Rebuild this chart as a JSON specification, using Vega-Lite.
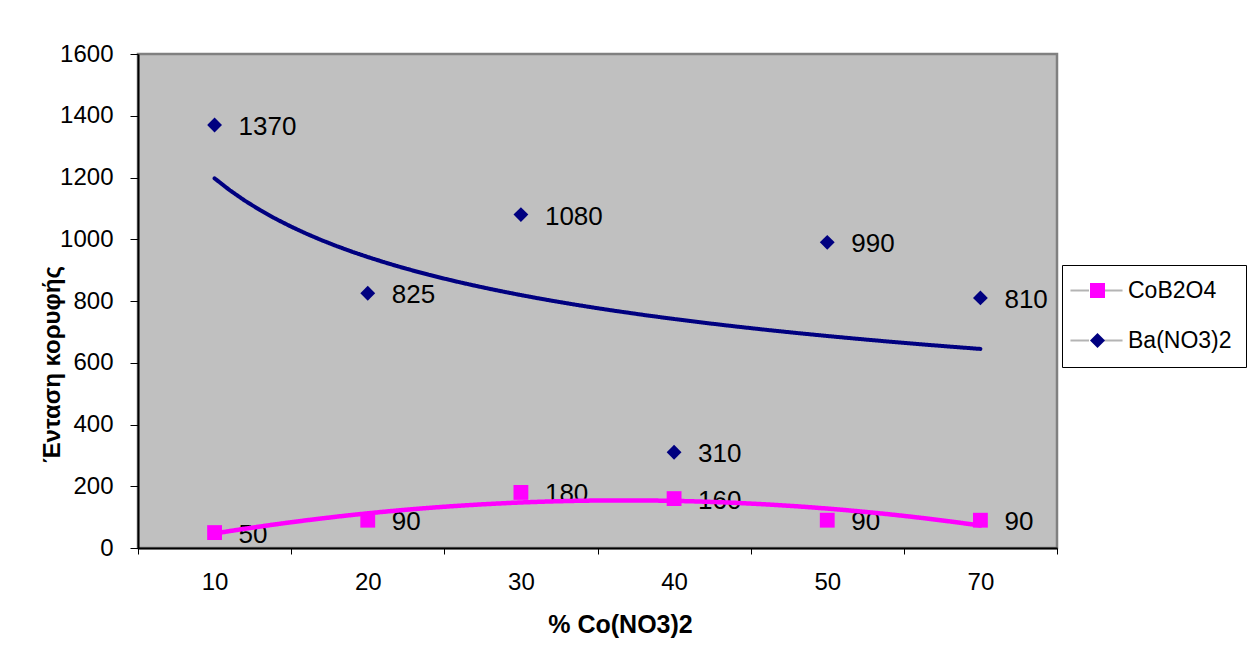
{
  "$schema": "https://vega.github.io/schema/vega-lite/v6.json",
  "width": 919,
  "height": 494,
  "autosize": {"type": "none"},
  "padding": {"left": 138, "top": 54, "right": 191, "bottom": 114},
  "background": "white",
  "config": {
    "font": "Liberation Sans",
    "view": {"fill": "#C0C0C0", "stroke": "#808080", "strokeWidth": 2.5},
    "axis": {
      "domainColor": "#000000",
      "domainWidth": 2,
      "tickColor": "#000000",
      "tickWidth": 1,
      "grid": false,
      "labelColor": "#000000",
      "titleColor": "#000000",
      "labelFont": "Liberation Sans",
      "titleFont": "Liberation Sans"
    },
    "legend": {"labelFont": "Liberation Sans", "labelColor": "#000000"}
  },
  "data": {
    "values": [
      {"pct": 10, "idx": 1, "series": "CoB2O4", "v": 50},
      {"pct": 20, "idx": 2, "series": "CoB2O4", "v": 90},
      {"pct": 30, "idx": 3, "series": "CoB2O4", "v": 180},
      {"pct": 40, "idx": 4, "series": "CoB2O4", "v": 160},
      {"pct": 50, "idx": 5, "series": "CoB2O4", "v": 90},
      {"pct": 70, "idx": 6, "series": "CoB2O4", "v": 90},
      {"pct": 10, "idx": 1, "series": "Ba(NO3)2", "v": 1370},
      {"pct": 20, "idx": 2, "series": "Ba(NO3)2", "v": 825},
      {"pct": 30, "idx": 3, "series": "Ba(NO3)2", "v": 1080},
      {"pct": 40, "idx": 4, "series": "Ba(NO3)2", "v": 310},
      {"pct": 50, "idx": 5, "series": "Ba(NO3)2", "v": 990},
      {"pct": 70, "idx": 6, "series": "Ba(NO3)2", "v": 810}
    ]
  },
  "layer": [
    {
      "mark": {"type": "text", "align": "left", "baseline": "middle", "dx": 24, "dy": 2, "fontSize": 26, "color": "#000000"},
      "encoding": {
        "x": {"field": "pct", "type": "ordinal", "scale": {"type": "band", "paddingInner": 0, "paddingOuter": 0}, "axis": null},
        "y": {"field": "v", "type": "quantitative", "scale": {"domain": [0, 1600], "nice": false}},
        "text": {"field": "v", "type": "quantitative"}
      }
    },
    {
      "transform": [
        {"filter": "datum.series === 'Ba(NO3)2'"},
        {"regression": "v", "on": "idx", "method": "pow", "groupby": ["series"]}
      ],
      "mark": {"type": "line", "color": "#000080", "strokeWidth": 4, "strokeCap": "round"},
      "encoding": {
        "x": {"field": "idx", "type": "quantitative", "scale": {"domain": [0.5, 6.5], "nice": false, "zero": false}, "axis": null},
        "y": {"field": "v", "type": "quantitative"},
        "strokeDash": {
          "field": "series",
          "type": "nominal",
          "scale": {"domain": ["CoB2O4", "Ba(NO3)2", "_"], "range": [[1, 0], [1, 0], [1, 0]]},
          "legend": {
            "title": null,
            "values": ["CoB2O4", "Ba(NO3)2"],
            "orient": "none",
            "legendX": 924,
            "legendY": 211,
            "padding": 14,
            "rowPadding": 26,
            "symbolType": "M-3.47,0H-1M1,0H3.47",
            "symbolSize": 225,
            "symbolStrokeWidth": 2,
            "symbolStrokeColor": "#b4b4b4",
            "symbolOffset": 9,
            "labelOffset": 19,
            "labelFontSize": 23,
            "labelOpacity": 0,
            "strokeColor": null,
            "encode": {"symbols": {"update": {"stroke": {"value": "#b4b4b4"}, "strokeWidth": {"value": 2}, "strokeDash": {"value": [1, 0]}}}}
          }
        }
      }
    },
    {
      "transform": [
        {"filter": "datum.series === 'CoB2O4'"},
        {"regression": "v", "on": "idx", "method": "poly", "order": 2, "groupby": ["series"]}
      ],
      "mark": {"type": "line", "color": "#FF00FF", "strokeWidth": 4.5, "strokeCap": "round"},
      "encoding": {
        "x": {"field": "idx", "type": "quantitative", "scale": {"domain": [0.5, 6.5], "nice": false, "zero": false}, "axis": null},
        "y": {"field": "v", "type": "quantitative"},
        "strokeDash": {"field": "series", "type": "nominal"}
      }
    },
    {
      "mark": {"type": "point", "filled": true, "opacity": 1, "size": 220},
      "encoding": {
        "x": {
          "field": "pct",
          "type": "ordinal",
          "scale": {"type": "band", "paddingInner": 0, "paddingOuter": 0},
          "axis": {
            "title": "% Co(NO3)2",
            "tickBand": "extent",
            "labelAngle": 0,
            "tickSize": 6,
            "labelPadding": 35,
            "labelBaseline": "alphabetic",
            "labelFontSize": 24,
            "titleFontSize": 25,
            "titleFontWeight": "bold",
            "titleX": 482,
            "titleY": 84,
            "titleBaseline": "alphabetic",
            "titleAlign": "center"
          }
        },
        "y": {
          "field": "v",
          "type": "quantitative",
          "axis": {
            "title": "Ένταση κορυφής",
            "values": [0, 200, 400, 600, 800, 1000, 1200, 1400, 1600],
            "format": "d",
            "tickSize": 8,
            "labelPadding": 17,
            "labelFontSize": 24,
            "labelFlush": false,
            "labelOverlap": false,
            "titleFontSize": 24,
            "titleFontWeight": "bold",
            "titleX": -79,
            "titleY": 310,
            "titleBaseline": "alphabetic",
            "titleAlign": "center",
            "titleAngle": -90
          }
        },
        "color": {
          "field": "series",
          "type": "nominal",
          "scale": {"domain": ["CoB2O4", "Ba(NO3)2"], "range": ["#FF00FF", "#000080"]},
          "legend": {
            "title": null,
            "orient": "none",
            "legendX": 924,
            "legendY": 211,
            "padding": 14,
            "rowPadding": 26,
            "symbolSize": 225,
            "symbolStrokeWidth": 0,
            "symbolOffset": 10,
            "labelOffset": 19,
            "labelFontSize": 23,
            "strokeColor": "#000000",
            "fillColor": null
          }
        },
        "shape": {
          "field": "series",
          "type": "nominal",
          "scale": {"domain": ["CoB2O4", "Ba(NO3)2"], "range": ["square", "diamond"]}
        }
      }
    }
  ],
  "resolve": {"scale": {"x": "independent"}, "axis": {"x": "independent"}}
}
